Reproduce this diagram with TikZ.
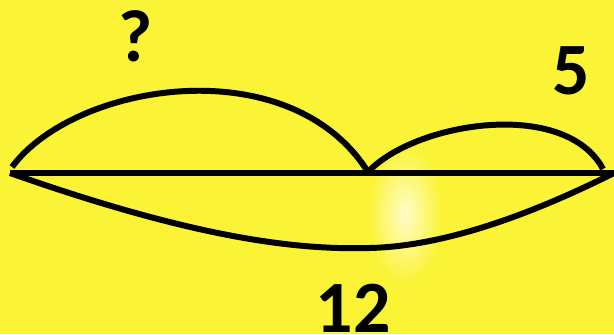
\documentclass[tikz,border=0pt]{standalone}
\usepackage{fontspec}
\setmainfont{Carlito}
\usepackage{tikz}
\usetikzlibrary{positioning}
\definecolor{SunYellow}{HTML}{FAF336}
\definecolor{GlowYellow}{HTML}{FFFDC8}

\begin{document}
\begin{tikzpicture}[
        x=0.02cm,y=-0.02cm,
        seg/.style={draw=black,line width=3.4pt},
        lbl/.style={anchor=base,font=\fontsize{42}{42}\selectfont\bfseries,inner sep=0pt}
      ]
        \useasboundingbox (0,0) rectangle (614,334);
        \fill[SunYellow] (0,0) rectangle (614,334);
        \shade[inner color=GlowYellow,outer color=SunYellow] (405,214) ellipse [x radius=0.75cm,y radius=1.4cm];
        \coordinate (left) at (10,173);
        \coordinate (mid) at (368,172);
        \coordinate (right) at (614,173);
        \coordinate (lefttop) at (12,167);
        \coordinate (righttop) at (603,169);
        \coordinate (low) at (370,248);
        \draw[seg] (left)--(right);
        \draw[seg] (lefttop) .. controls (75,82) and (290,48) .. (mid);
        \draw[seg] (mid) .. controls (415,122) and (565,98) .. (righttop);
        \draw[seg] (left) .. controls (200,240) and (300,250) .. (low) .. controls (450,246) and (540,210) .. (right);
        \node[lbl] (unknown) at (136,62) {?};
        \node[lbl] (part) at (571,95) {5};
        \node[lbl] (total) at (353,332) {12};
      \end{tikzpicture}
\end{document}
